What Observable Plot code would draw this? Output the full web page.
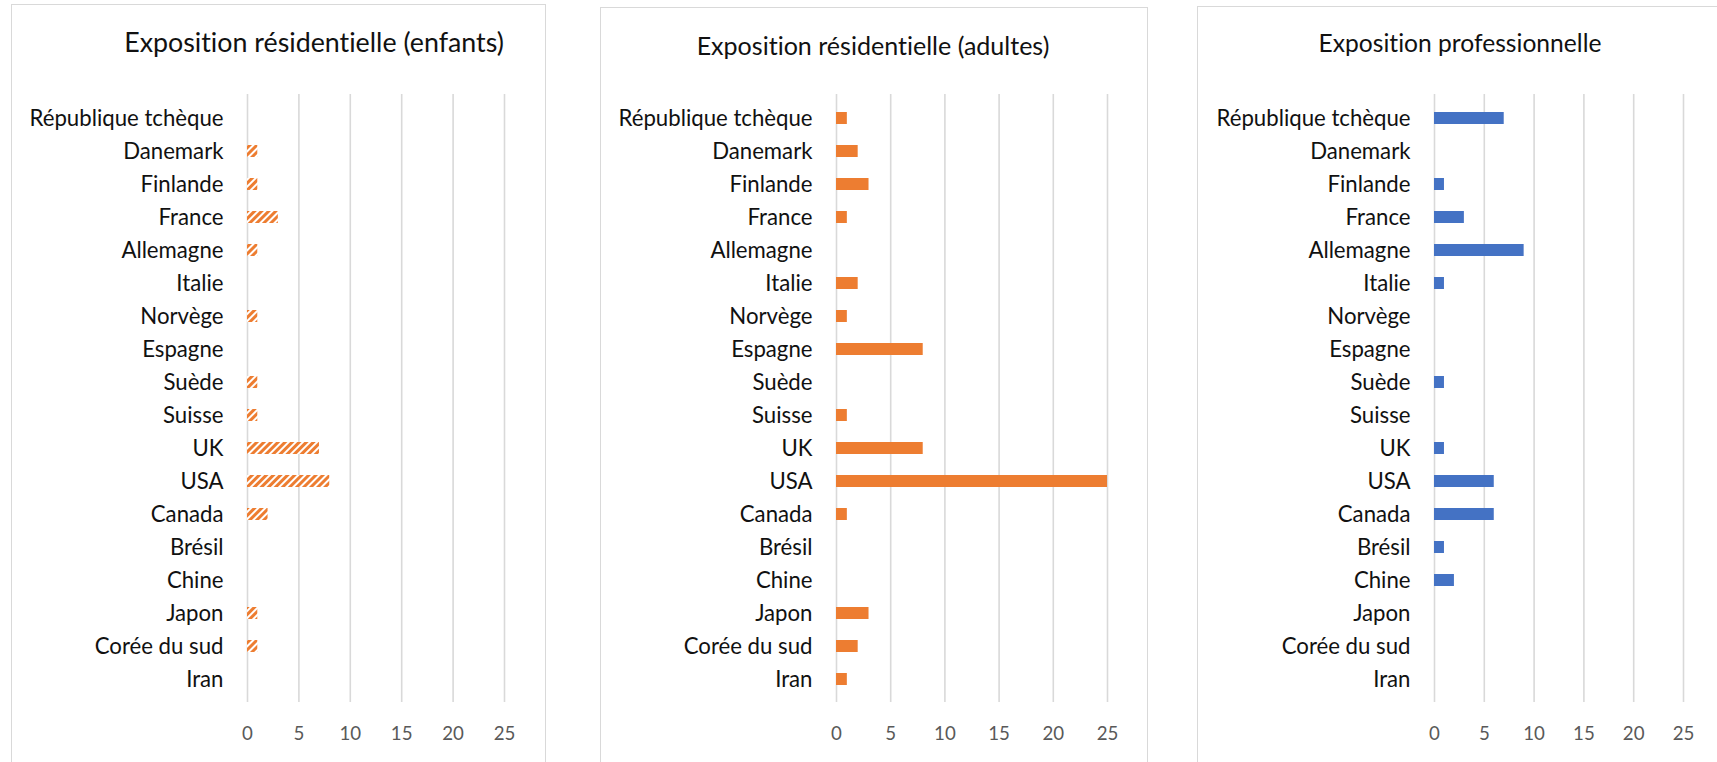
<!DOCTYPE html>
<html><head><meta charset="utf-8">
<script src="https://cdn.jsdelivr.net/npm/d3@7"></script>
<script src="https://cdn.jsdelivr.net/npm/@observablehq/plot@0.6"></script>
<style>
body{margin:0;width:1717px;height:762px;overflow:hidden;background:#fff;font-family:Lato,"Open Sans",sans-serif;font-variant-ligatures:none;font-feature-settings:"liga" 0;}
#root{position:relative;width:1717px;height:762px;overflow:hidden;}
.box{position:absolute;border:1.5px solid #d9d9d9;box-sizing:border-box;height:820px;}
.title{position:absolute;white-space:nowrap;transform:translate(-50%,-50%);color:#111;line-height:1.2;font-variant-ligatures:none;font-feature-settings:"liga" 0;}
.plot{position:absolute;top:0;font-variant-ligatures:none;font-feature-settings:"liga" 0;}
</style></head><body><div id="root"></div>
<script>
const countries = ["République tchèque","Danemark","Finlande","France","Allemagne","Italie","Norvège","Espagne","Suède","Suisse","UK","USA","Canada","Brésil","Chine","Japon","Corée du sud","Iran"];
const enfants        = [0,1,1,3,1,0,1,0,1,1,7,8,2,0,0,1,1,0];
const adultes        = [1,2,3,1,0,2,1,8,0,1,8,25,1,0,0,3,2,1];
const professionnelle= [7,0,1,3,9,1,0,0,1,0,1,6,6,1,2,0,0,0];
const xTicks = [0,5,10,15,20,25];
const titles = ["Exposition résidentielle (enfants)","Exposition résidentielle (adultes)","Exposition professionnelle"];

const panels = [
  {title:titles[0], values:enfants, fill:"url(#hatch)", boxLeft:11, boxTop:4, boxWidth:535, svgWidth:534, svgLeft:11, marginLeft:236, marginRight:41, titleX:314, titleY:42, titleW:380},
  {title:titles[1], values:adultes, fill:"#ED7D31", boxLeft:600, boxTop:7, boxWidth:548, svgWidth:547, svgLeft:600, marginLeft:236, marginRight:40, titleX:873, titleY:45, titleW:353},
  {title:titles[2], values:professionnelle, fill:"#4472C4", boxLeft:1197, boxTop:6, boxWidth:540, svgWidth:520, svgLeft:1197, marginLeft:237, marginRight:34, titleX:1460, titleY:43, titleW:283}
];

const root = document.getElementById("root");
const ns = "http://www.w3.org/2000/svg";

function fitGroup(svg, label, matchText, target) {
  const g = svg.querySelector(`g[aria-label="${label}"]`);
  if (!g) return;
  const texts = Array.from(g.querySelectorAll("text"));
  const t0 = texts.find(t => t.textContent === matchText);
  if (!t0) return;
  const cur = parseFloat(getComputedStyle(t0).fontSize);
  const w = t0.getComputedTextLength();
  const fs = cur * target / w;
  g.setAttribute("font-size", fs);
  texts.forEach(t => t.removeAttribute("font-size"));
}

panels.forEach((p, i) => {
  const box = document.createElement("div");
  box.className = "box";
  box.style.left = p.boxLeft + "px";
  box.style.top = p.boxTop + "px";
  box.style.width = p.boxWidth + "px";
  root.appendChild(box);

  const data = countries.map((c, k) => ({country: c, value: p.values[k]}));
  const svg = Plot.plot({
    width: p.svgWidth,
    height: 762,
    marginTop: 94,
    marginBottom: 60,
    marginLeft: p.marginLeft,
    marginRight: p.marginRight,
    style: {fontFamily: "Lato, 'Open Sans', sans-serif", background: "transparent", overflow: "visible"},
    x: {domain: [0, 25]},
    y: {domain: countries, paddingInner: 0.65, paddingOuter: 0.325},
    marks: [
      Plot.gridX(xTicks, {stroke: "#d9d9d9", strokeOpacity: 1, strokeWidth: 1.6}),
      Plot.barX(data.filter(d => d.value > 0), {x: "value", y: "country", fill: p.fill}),
      Plot.axisX(xTicks, {tickSize: 0, tickPadding: 24, label: null, fill: "#595959", fontSize: 20}),
      Plot.axisY({tickSize: 0, tickPadding: 24, label: null, fill: "#111", fontSize: 21})
    ]
  });
  svg.classList.add("plot");
  svg.style.left = p.svgLeft + "px";
  if (i === 0) {
    const defs = document.createElementNS(ns, "defs");
    defs.innerHTML = '<pattern id="hatch" patternUnits="userSpaceOnUse" width="5" height="5" patternTransform="rotate(45)">' +
      '<rect width="5" height="5" fill="#ffffff"/><rect x="0" y="0" width="3" height="5" fill="#ED7D31"/></pattern>';
    svg.insertBefore(defs, svg.firstChild);
  }
  root.appendChild(svg);

  fitGroup(svg, "y-axis tick label", countries[0], 194);
  fitGroup(svg, "x-axis tick label", "25", 21.7);

  const title = document.createElement("div");
  title.className = "title";
  title.textContent = p.title;
  title.style.fontSize = "24px";
  title.style.left = p.titleX + "px";
  title.style.top = p.titleY + "px";
  root.appendChild(title);
  const tw = title.getBoundingClientRect().width;
  title.style.fontSize = (24 * p.titleW / tw) + "px";
});
</script>
</body></html>
